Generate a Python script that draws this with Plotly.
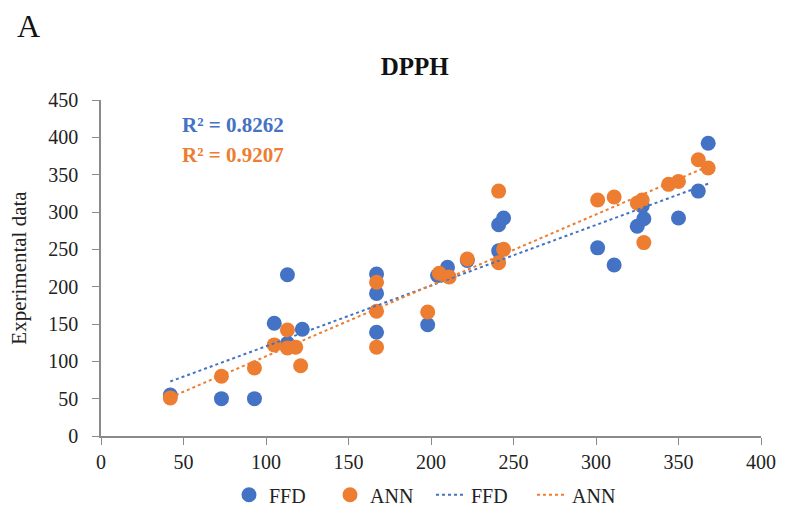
import numpy as np
import plotly.graph_objects as go

# FFD series (predicted, experimental)
ffd_x = [42, 73, 93, 105, 113, 113, 122, 167, 167, 167, 198, 210, 204, 222, 241, 244, 241,
         301, 311, 325, 329, 328, 350, 362, 368]
ffd_y = [55, 50, 50, 151, 216, 124, 143, 217, 191, 139, 149, 226, 215, 235, 283, 292, 248,
         252, 229, 281, 291, 308, 292, 328, 392]

# ANN series
ann_x = [42, 73, 93, 105, 113, 113, 118, 121, 167, 167, 167, 198, 205, 211, 222, 241, 244, 241,
         301, 311, 325, 328, 329, 344, 350, 362, 368]
ann_y = [51, 80, 91, 122, 142, 118, 119, 94, 206, 167, 119, 166, 218, 213, 237, 328, 250, 232,
         316, 320, 312, 316, 259, 337, 341, 370, 359]

r2_ffd = "R² = 0.8262"
r2_ann = "R² = 0.9207"

x_ticks = [0, 50, 100, 150, 200, 250, 300, 350, 400]
y_ticks = [0, 50, 100, 150, 200, 250, 300, 350, 400, 450]

BLUE = "#4472C4"
ORANGE = "#ED7D31"
FONT = "Liberation Serif"


def trend(xs, ys):
    xs = np.array(xs, float)
    ys = np.array(ys, float)
    m, b = np.polyfit(xs, ys, 1)
    lx = np.array([xs.min(), xs.max()])
    return lx, m * lx + b


fig = go.Figure()
fig.add_trace(go.Scatter(x=ffd_x, y=ffd_y, mode="markers", name="FFD",
                         marker=dict(color=BLUE, size=15, line=dict(width=0))))
fig.add_trace(go.Scatter(x=ann_x, y=ann_y, mode="markers", name="ANN",
                         marker=dict(color=ORANGE, size=15, line=dict(width=0))))
tx, ty = trend(ffd_x, ffd_y)
fig.add_trace(go.Scatter(x=tx, y=ty, mode="lines", name="FFD",
                         line=dict(color=BLUE, width=2, dash="dot")))
tx, ty = trend(ann_x, ann_y)
fig.add_trace(go.Scatter(x=tx, y=ty, mode="lines", name="ANN",
                         line=dict(color=ORANGE, width=2, dash="dot")))

axis_common = dict(showgrid=False, zeroline=False, showline=True, linecolor="#8a8a8a",
                   linewidth=1.5, ticks="outside", ticklen=7, tickcolor="#8a8a8a",
                   tickfont=dict(family=FONT, size=20, color="#222"))

fig.update_layout(
    width=787, height=512,
    margin=dict(l=101, r=26, t=100, b=76, autoexpand=False),
    paper_bgcolor="white", plot_bgcolor="white",
    title=dict(text="<b>DPPH</b>", x=0.527, xanchor="center", y=1 - 66 / 512, yanchor="middle",
               font=dict(family=FONT, size=25, color="#111")),
    xaxis=dict(range=[0, 400], tickvals=x_ticks, **axis_common),
    yaxis=dict(range=[0, 450], tickvals=y_ticks, ticklabelstandoff=10,
               title=dict(text="Experimental data", font=dict(family=FONT, size=21, color="#222"),
                          standoff=16),
               **axis_common),
    showlegend=True,
    legend=dict(orientation="h", x=0.5, xanchor="center", y=-0.175, yanchor="middle",
                font=dict(family=FONT, size=20, color="#222"), entrywidth=56,
                tracegroupgap=0, bgcolor="rgba(0,0,0,0)"),
    annotations=[
        dict(text="<b>" + r2_ffd + "</b>", x=48, y=416, xref="x", yref="y", xanchor="left",
             yanchor="middle", showarrow=False, font=dict(family=FONT, size=21, color=BLUE)),
        dict(text="<b>" + r2_ann + "</b>", x=48, y=377, xref="x", yref="y", xanchor="left",
             yanchor="middle", showarrow=False, font=dict(family=FONT, size=21, color=ORANGE)),
        dict(text="A", x=-0.131, y=1.22, xref="paper", yref="paper", xanchor="left",
             yanchor="middle", showarrow=False, font=dict(family=FONT, size=32, color="#111")),
    ],
)

fig.write_html("out.html")
